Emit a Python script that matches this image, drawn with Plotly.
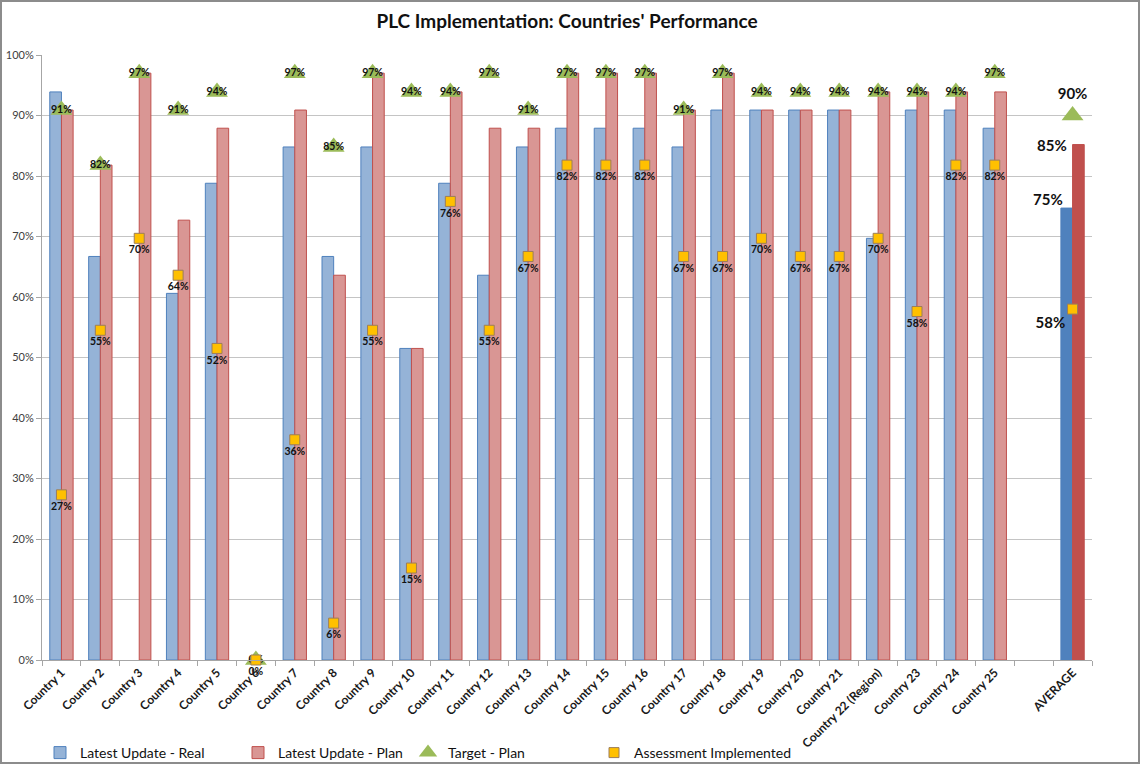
import plotly.graph_objects as go

categories = [f"Country {i}" for i in range(1, 22)] + ["Country 22 (Region)", "Country 23", "Country 24", "Country 25", " ", "AVERAGE"]

latest_real = [0.939, 0.667, None, 0.606, 0.788, None, 0.848, 0.667, 0.848, 0.515,
               0.788, 0.636, 0.848, 0.879, 0.879, 0.879, 0.848, 0.909, 0.909, 0.909,
               0.909, 0.697, 0.909, 0.909, 0.879, None, 0.747]
latest_plan = [0.909, 0.818, 0.970, 0.727, 0.879, None, 0.909, 0.636, 0.970, 0.515,
               0.939, 0.879, 0.879, 0.970, 0.970, 0.970, 0.909, 0.970, 0.909, 0.909,
               0.909, 0.939, 0.939, 0.939, 0.939, None, 0.852]
target_plan = [0.909, 0.818, 0.970, 0.909, 0.939, 0.0, 0.970, 0.848, 0.970, 0.939,
               0.939, 0.970, 0.909, 0.970, 0.970, 0.970, 0.909, 0.970, 0.939, 0.939,
               0.939, 0.939, 0.939, 0.939, 0.970, None, 0.90]
assessment = [0.273, 0.545, 0.697, 0.636, 0.515, 0.0, 0.364, 0.061, 0.545, 0.152,
              0.758, 0.545, 0.667, 0.818, 0.818, 0.818, 0.667, 0.667, 0.697, 0.667,
              0.667, 0.697, 0.576, 0.818, 0.818, None, 0.58]

FONT = "Lato"
is_avg = [c == "AVERAGE" for c in categories]

real_fill = ["#4F81BD" if a else "#95B3D7" for a in is_avg]
plan_fill = ["#C0504D" if a else "#D99694" for a in is_avg]

fig = go.Figure()
fig.add_trace(go.Bar(
    x=categories, y=latest_real, name="Latest Update - Real", legend="legend",
    marker=dict(color=real_fill, line=dict(color="#4F81BD", width=1)),
))
fig.add_trace(go.Bar(
    x=categories, y=latest_plan, name="Latest Update - Plan", legend="legend2",
    marker=dict(color=plan_fill, line=dict(color="#C0504D", width=1)),
))
fig.add_trace(go.Scatter(
    x=categories, y=target_plan, name="Target - Plan", mode="markers+text", legend="legend3",
    cliponaxis=False,
    marker=dict(symbol="triangle-up", size=19, color="#9BBB59"),
    texttemplate="%{y:.0%}",
    textposition=["top center" if a else "middle center" for a in is_avg],
    textfont=dict(family=FONT, size=[15 if a else 10.5 for a in is_avg], color="#111111", weight="bold"),
))
fig.add_trace(go.Scatter(
    x=categories, y=assessment, name="Assessment Implemented", mode="markers+text", legend="legend4",
    cliponaxis=False,
    marker=dict(symbol="square", size=10, color="#FFC000", line=dict(color="#9C7D5A", width=1)),
    texttemplate="%{y:.0%}",
    textposition=["bottom left" if a else "bottom center" for a in is_avg],
    textfont=dict(family=FONT, size=[15 if a else 10.5 for a in is_avg], color="#111111", weight="bold"),
))

ai = categories.index("AVERAGE")
annotations = [
    dict(x="AVERAGE", y=latest_real[ai], text=f"{latest_real[ai]:.0%}", showarrow=False,
         xanchor="right", yanchor="bottom", xshift=-8, yshift=-2,
         font=dict(family=FONT, size=15, color="#111111", weight="bold")),
    dict(x="AVERAGE", y=latest_plan[ai], text=f"{latest_plan[ai]:.0%}", showarrow=False,
         xanchor="right", yanchor="middle", xshift=-4,
         font=dict(family=FONT, size=15, color="#111111", weight="bold")),
]

W, H = 1141, 765
ML, MR, MT, MB = 42, 49, 55, 105
pw, ph = W - ML - MR, H - MT - MB
def px_x(p):
    return (p - ML) / pw
def px_y(p):
    return (H - MB - p) / ph

def leg(px):
    return dict(orientation="h", x=px_x(px), xanchor="left", y=px_y(753), yanchor="middle",
                font=dict(family=FONT, size=14, color="#111111"),
                itemwidth=30, bgcolor="rgba(0,0,0,0)")

fig.update_layout(
    width=W, height=H,
    margin=dict(l=ML, r=MR, t=MT, b=MB, autoexpand=False),
    template="none",
    paper_bgcolor="white", plot_bgcolor="white",
    font=dict(family=FONT, color="#222222"),
    title=dict(text="<b>PLC Implementation: Countries' Performance</b>",
               x=0.5, xref="paper", xanchor="center",
               y=1 - 21 / H, yref="container", yanchor="middle",
               font=dict(family=FONT, size=19, color="#111111")),
    barmode="group", bargap=0.4, bargroupgap=0.0,
    showlegend=True,
    legend=leg(40), legend2=leg(238), legend3=leg(408), legend4=leg(594),
    annotations=annotations,
    shapes=[dict(type="rect", xref="paper", yref="paper",
                 x0=px_x(1), x1=px_x(1139), y0=px_y(763), y1=px_y(1),
                 line=dict(color="#8c8c8c", width=2), layer="above")],
)
fig.update_xaxes(
    type="category", categoryorder="array", categoryarray=categories,
    range=[-0.5, len(categories) - 0.5],
    tickangle=-45, automargin=False,
    showline=True, linecolor="#a6a6a6", linewidth=1,
    ticks="outside", ticklen=5, tickcolor="#a6a6a6", tickson="boundaries",
    showgrid=False,
    tickfont=dict(family=FONT, size=12, color="#1a1a1a", weight="bold"),
)
fig.update_yaxes(
    range=[0, 1], tickformat=".0%", dtick=0.1, automargin=False,
    showline=True, linecolor="#a6a6a6", linewidth=1,
    ticks="outside", ticklen=5, tickcolor="#a6a6a6",
    showgrid=True, gridcolor="#c4c4c4", gridwidth=1, zeroline=False,
    tickfont=dict(family=FONT, size=11, color="#404040"),
)

fig.write_html("out.html")
